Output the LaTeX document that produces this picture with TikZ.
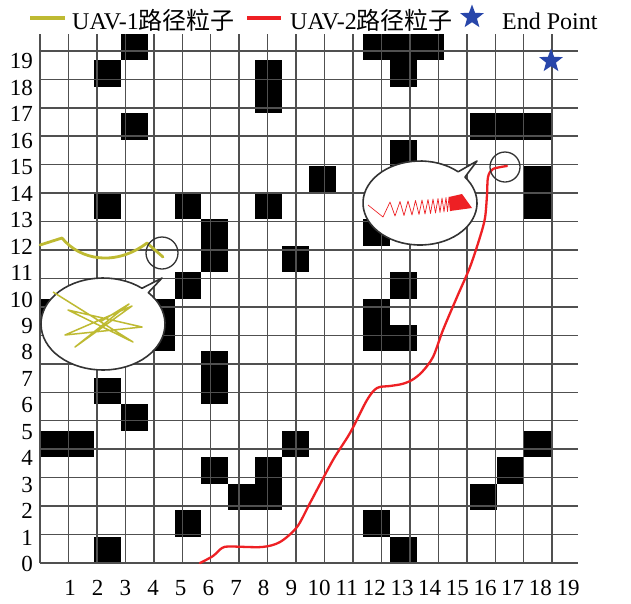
\documentclass[tikz,border=0pt]{standalone}
\usepackage{fontspec}
\setmainfont{Liberation Serif}
\newfontfamily\cjk{Noto Sans CJK SC}
\usetikzlibrary{shapes.geometric}
\definecolor{gridgray}{RGB}{80,80,80}
\definecolor{uavyellow}{RGB}{190,186,50}
\definecolor{uavred}{RGB}{238,32,36}
\definecolor{starblue}{RGB}{40,70,170}
\tikzset{
  gridline/.style={gridgray, line width=1.5pt},
  obstacle/.style={fill=black},
  ticklabel/.style={font=\fontsize{23}{23}\selectfont, inner sep=0pt},
  legendtext/.style={font=\fontsize{24}{24}\selectfont, inner sep=0pt, anchor=base west},
  redpath/.style={uavred, line width=2.3pt, line cap=round, line join=round},
  yellowpath/.style={uavyellow, line width=2.8pt, line cap=round, line join=round},
  focus/.style={draw=black!80, line width=1.3pt, circle, inner sep=0pt},
  bubble/.style={fill=white, draw=black!80, line width=1.6pt, line join=round},
  endstar/.style={star, star points=5, star point ratio=2.4, fill=starblue, inner sep=0pt, minimum size=25pt},
}
\begin{document}
\begin{tikzpicture}[x=1pt,y=-1pt]
\useasboundingbox (0,0) rectangle (631,603);
\fill[white] (0,0) rectangle (631,603);

% grid with obstacles
\begin{scope}[xshift=40pt, yshift=-563pt, x=26.9pt, y=26.45pt]
  \foreach \c/\r in {3/19,12/19,13/19,14/19,2/18,8/18,13/18,8/17,3/16,16/16,17/16,18/16,
    13/15,10/14,18/14,2/13,5/13,8/13,18/13,6/12,12/12,6/11,9/11,5/10,13/10,
    0/9,4/9,12/9,4/8,12/8,13/8,6/7,2/6,6/6,3/5,0/4,1/4,9/4,18/4,6/3,8/3,17/3,
    7/2,8/2,16/2,5/1,12/1,2/0,13/0}
    \fill[obstacle] (\c,\r) rectangle ++(1,1);
  \draw[gridline] (0,0) grid (20,20);
\end{scope}

% tick labels
\foreach \k in {0,...,19}
  \node[ticklabel, anchor=east] (yl\k) at (33, {563-26.45*\k+1}) {\k};
\foreach \k in {1,...,19}
  \node[ticklabel] (xl\k) at ({70+27.67*(\k-1)}, 588) {\k};

% UAV-2 path
\draw[redpath] plot[smooth, tension=0.5] coordinates {
  (200,563) (213,556) (222,548) (230,546.5) (262,547) (280,542) (297,527)
  (310,503) (333,460) (350,433) (367,400) (377,388) (390,386) (402,384)
  (412,380) (422,372) (433,357) (443,330) (457,297) (470,267) (480,237)
  (485,218) (487,195) (488,177) (493,169) (507,166)};

% UAV-1 path
\draw[yellowpath] (40,245) -- (62,238) .. controls (80,260) and (115,267) .. (147,243) -- (163,257);

% focus circles
\node[focus, minimum size=32pt] (c1) at (162,253) {};
\node[focus, minimum size=30pt] (c2) at (505,167) {};

% left bubble
\filldraw[bubble] ([shift={(51:62pt and 46pt)}]103,324)
  arc[start angle=51, end angle=403, x radius=62pt, y radius=46pt] -- (162,278) -- cycle;
\draw[uavyellow, line width=1.5pt, line join=round]
  (53,292) -- (133,342) -- (68,310) -- (142,327) -- (65,335) -- (132,306)
  -- (75,347) -- (129,304) -- (100,322);

% right bubble
\filldraw[bubble] ([shift={(48:57pt and 42pt)}]420,203)
  arc[start angle=48, end angle=398, x radius=57pt, y radius=42pt] -- (477,161) -- cycle;
\draw[uavred, line width=0.7pt, line join=round] plot coordinates {
  (368,205) (383,217) (390,202) (395,216) (400,201.5) (404,215.5) (408,201)
  (412,215) (415.5,200.5) (419,214.5) (422,200) (425,214) (428,199.5)
  (430.5,213.5) (433,199) (435.5,213) (438,198.5) (440,212.5) (442,198)
  (444,212) (446,197.5) (447.5,211.5) (449,197) (450.5,211)};
\fill[uavred] (449,197) -- (462,194) -- (472,208) -- (450,211) -- cycle;

% end point
\node[endstar] (goal) at (551,61) {};

% legend
\draw[uavyellow, line width=3.5pt] (30,18) -- (65,18);
\node[legendtext] (lg1) at (72,29) {UAV-1{\cjk 路径粒子}};
\draw[uavred, line width=3.5pt] (247,18) -- (281,18);
\node[legendtext] (lg2) at (290,29) {UAV-2{\cjk 路径粒子}};
\node[endstar] (lgstar) at (472,17) {};
\node[legendtext] (lg3) at (502,29) {End Point};
\end{tikzpicture}
\end{document}
